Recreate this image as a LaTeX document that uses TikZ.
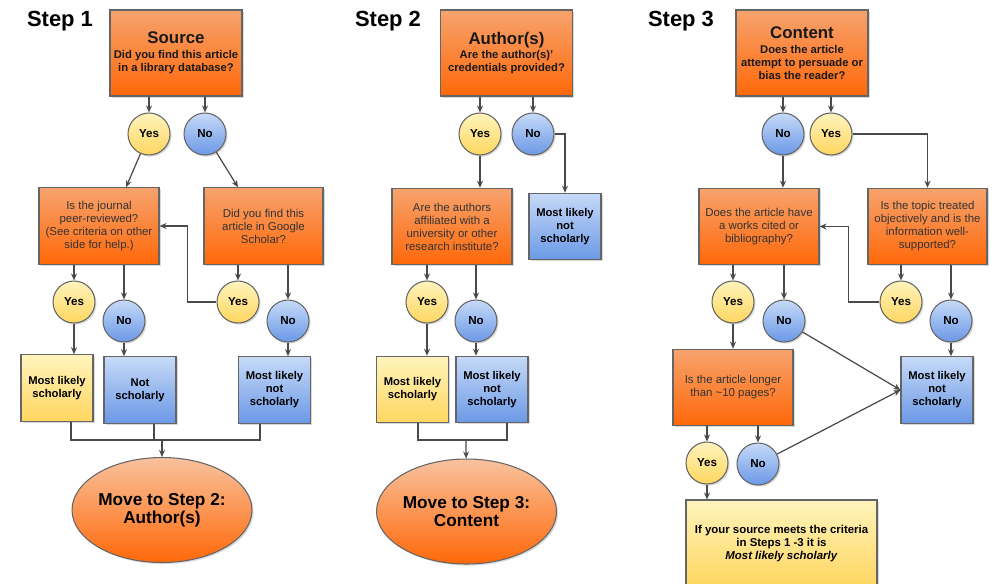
\documentclass[tikz,border=0pt]{standalone}
\usepackage{fontspec}
\setmainfont{Liberation Sans}
\usetikzlibrary{shapes.geometric,arrows.meta,shadows}

\definecolor{orTop}{HTML}{F7A36E}
\definecolor{orBot}{HTML}{FF6808}
\definecolor{elTop}{HTML}{F9C29E}
\definecolor{ylTop}{HTML}{FFF4BC}
\definecolor{ylBot}{HTML}{FFD660}
\definecolor{blTop}{HTML}{C6DAF8}
\definecolor{blBot}{HTML}{6B98E6}
\definecolor{lineGray}{HTML}{4A4A4A}

\begin{document}
\begin{tikzpicture}[x=0.02cm,y=-0.02cm,
	shadebox/.style={draw=lineGray!85, line width=0.6pt,
		drop shadow={shadow xshift=0.9pt,shadow yshift=-0.9pt,opacity=0.3}},
	question/.style={shadebox, rectangle, top color=orTop, bottom color=orBot,
		align=center, inner sep=0pt, minimum width=2.4cm, minimum height=1.53cm,
		text=black!80, font=\fontsize{6.5}{7.4}\selectfont},
	topic/.style={question, minimum width=2.64cm, minimum height=1.72cm,
		text=black!90, font=\bfseries\fontsize{6.4}{7.4}\selectfont},
	yescirc/.style={shadebox, circle, top color=ylTop, bottom color=ylBot,
		minimum size=0.84cm, inner sep=0pt, font=\bfseries\fontsize{6.6}{7.4}\selectfont},
	nocirc/.style={yescirc, top color=blTop, bottom color=blBot},
	likely/.style={shadebox, rectangle, top color=ylTop, bottom color=ylBot,
		align=center, inner sep=0pt, minimum width=1.44cm, minimum height=1.33cm,
		font=\bfseries\fontsize{6.4}{7.4}\selectfont},
	unlikely/.style={likely, top color=blTop, bottom color=blBot},
	moveon/.style={shadebox, ellipse, top color=elTop, bottom color=orBot,
		align=center, inner sep=0pt, minimum width=3.6cm, minimum height=2.1cm,
		font=\bfseries\fontsize{9.8}{10}\selectfont},
	steplbl/.style={font=\bfseries\fontsize{12.5}{14}\selectfont},
	arr/.style={draw=lineGray, line width=0.7pt, -{Stealth[length=4pt,width=3.4pt]}},
	ln/.style={draw=lineGray, line width=0.7pt}]
	%\draw[help lines] (0,0) grid[step=50] (1005,583);
	\useasboundingbox (0,0) rectangle (1005,583);
	
	% step 1
	\node[steplbl] (t1) at (60,21) {Step 1};
	\node[topic] (src) at (176,53) {{\fontsize{9.6}{11}\selectfont Source}\\[1pt]Did you find this article\\in a library database?};
	\node[yescirc] (y1) at (149,134) {Yes};
	\node[nocirc] (n1) at (205,134) {No};
	\node[question] (peer) at (99,226) {Is the journal\\peer-reviewed?\\(See criteria on other\\side for help.)};
	\node[question, minimum width=2.38cm] (gs) at (263.5,226) {Did you find this\\article in Google\\Scholar?};
	\node[yescirc] (y2) at (74,302) {Yes};
	\node[nocirc] (n2) at (124,321) {No};
	\node[yescirc] (y3) at (238,302) {Yes};
	\node[nocirc] (n3) at (288,321) {No};
	\node[likely] (msch1) at (57,388) {Most likely\\scholarly};
	\node[unlikely] (nsch1) at (140,390) {Not\\scholarly};
	\node[unlikely] (mlns1) at (274.5,390) {Most likely\\not\\scholarly};
	\node[moveon] (e1) at (162,510) {Move to Step 2:\\Author(s)};
	\coordinate (j1) at (162,440);
	
	% step 2
	\node[steplbl] (t2) at (388,21) {Step 2};
	\node[topic] (auth) at (506.5,53) {{\fontsize{9.6}{11}\selectfont Author(s)}\\[1pt]Are the author(s)'\\credentials provided?};
	\node[yescirc] (y4) at (480,134) {Yes};
	\node[nocirc] (n4) at (533,134) {No};
	\node[question] (affil) at (452,226.5) {Are the authors\\affiliated with a\\university or other\\research institute?};
	\node[unlikely] (mlns2a) at (565,226.5) {Most likely\\not\\scholarly};
	\node[yescirc] (y5) at (427,302) {Yes};
	\node[nocirc] (n5) at (476,321) {No};
	\node[likely] (msch2) at (412.5,389.5) {Most likely\\scholarly};
	\node[unlikely] (mlns2b) at (492,389.5) {Most likely\\not\\scholarly};
	\node[moveon] (e2) at (466.5,511.5) {Move to Step 3:\\Content};
	\coordinate (j2) at (466,440);
	
	% step 3
	\node[steplbl] (t3) at (681,21) {Step 3};
	\node[topic] (cont) at (802,53) {{\fontsize{9.6}{11}\selectfont Content}\\[1pt]Does the article\\attempt to persuade or\\bias the reader?};
	\node[nocirc] (n6) at (783,134) {No};
	\node[yescirc] (y6) at (831,134) {Yes};
	\node[question] (works) at (759,226.5) {Does the article have\\a works cited or\\bibliography?};
	\node[question, minimum width=2.38cm] (objct) at (927.5,226.5) {Is the topic treated\\objectively and is the\\information well-\\supported?};
	\node[yescirc] (y7) at (733,302) {Yes};
	\node[nocirc] (n7) at (784,321) {No};
	\node[yescirc] (y8) at (901,302) {Yes};
	\node[nocirc] (n8) at (951,321) {No};
	\node[unlikely] (mlns3) at (937,390) {Most likely\\not\\scholarly};
	\node[question] (longer) at (733,387.5) {Is the article longer\\than \textasciitilde10 pages?};
	\node[yescirc] (y9) at (707,463) {Yes};
	\node[nocirc] (n9) at (758,464) {No};
	\node[likely, minimum width=3.82cm, minimum height=1.74cm, font=\bfseries\fontsize{6.5}{7.3}\selectfont] (final) at (781.5,543.5) {If your source meets the criteria\\in Steps 1 -3 it is\\\textit{Most likely scholarly}};
	
	% box to answer
	\foreach \b/\c in {src/y1,src/n1,peer/y2,peer/n2,gs/y3,gs/n3,auth/y4,auth/n4,affil/y5,affil/n5,cont/n6,cont/y6,works/y7,works/n7,objct/y8,objct/n8,longer/y9,longer/n9}
		\draw[arr] (\c |- \b.south) -- (\c);
	% answer to box
	\foreach \c/\b in {y2/msch1,n2/nsch1,n3/mlns1,y4/affil,y5/msch2,n5/mlns2b,n6/works,y7/longer,n8/mlns3,y9/final}
		\draw[arr] (\c) -- (\c |- \b.north);
	
	\draw[arr] (y1) -- ([xshift=0.54cm]peer.north);
	\draw[arr] (n1) -- ([xshift=-0.51cm]gs.north);
	\draw[arr] (y3.west) -- ++(-29,0) |- (peer.east);
	\draw[ln] ([xshift=0.28cm]msch1.south) |- (j1) -| ([xshift=-0.29cm]mlns1.south);
	\draw[ln] ([xshift=0.28cm]nsch1.south) |- (j1);
	\draw[arr] (j1) -- (e1);
	
	\draw[arr] (n4.east) -| (mlns2a.north);
	\draw[ln] ([xshift=0.11cm]msch2.south) |- (j2) -| ([xshift=0.3cm]mlns2b.south);
	\draw[arr] (j2) -- (e2);
	
	\draw[arr] (y6.east) -| (objct.north);
	\draw[arr] (y8.west) -- ++(-31,0) |- (works.east);
	\draw[arr] (n7) -- (mlns3.west);
	\draw[arr] (n9) -- (mlns3.west);
\end{tikzpicture}
\end{document}
